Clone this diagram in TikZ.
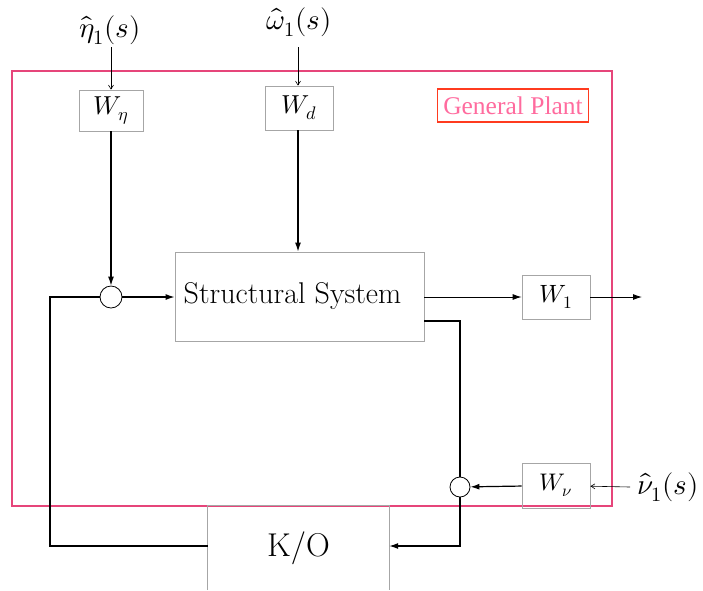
\documentclass[tikz,border=0pt]{standalone}
\usepackage{fontspec}
\usepackage{unicode-math}
\setmathfont{Latin Modern Math}
\newfontfamily\tnr{Liberation Serif}
\usetikzlibrary{arrows.meta}
\definecolor{framepink}{HTML}{E6457A}
\definecolor{gpborder}{HTML}{FF3B1F}
\definecolor{gptext}{HTML}{FF6B9E}
\begin{document}
\begin{tikzpicture}[x=1pt,y=-1pt,
  blk/.style={draw=black!35,line width=0.8pt,inner sep=0pt,anchor=center},
  sumj/.style={draw,circle,line width=0.8pt,minimum size=22pt,inner sep=0pt},
  conn/.style={line width=1.2pt,-{Latex[length=9pt,width=6pt]}},
  connthin/.style={line width=0.9pt,-{Latex[length=9pt,width=6pt]}},
  plain/.style={line width=1.2pt},
  thinarr/.style={line width=0.6pt,-{Straight Barb[length=4pt,width=5pt]}},
  lbl/.style={inner sep=0pt}]
\useasboundingbox (0,0) rectangle (703,590);
% frame
\draw[framepink,line width=1.6pt] (12,71) rectangle (612,506);
\node[draw=gpborder,line width=1.4pt,minimum width=151pt,minimum height=33pt,inner sep=0pt,text=gptext,font=\tnr\fontsize{25.5}{28}\selectfont] (gp) at (513,105.5) {General Plant};
% blocks
\node[blk,minimum width=64pt,minimum height=41pt,font=\fontsize{26}{30}\selectfont] (weta) at (111,110.5) {$W_\eta$};
\node[blk,minimum width=68pt,minimum height=44pt,font=\fontsize{26}{30}\selectfont] (wd) at (299,108) {$W_d$};
\node[blk,minimum width=249pt,minimum height=89pt,font=\fontsize{30}{34}\selectfont] (ss) at (299.5,296.5) {\hspace*{-14pt}Structural System};
\node[blk,minimum width=68pt,minimum height=44pt,font=\fontsize{25}{29}\selectfont] (w1) at (556,297) {$W_1$};
\node[blk,minimum width=68pt,minimum height=45pt,font=\fontsize{24}{28}\selectfont] (wnu) at (556,485.5) {$W_\nu$};
\node[sumj] (s1) at (111,297) {};
\node[sumj,minimum size=20pt] (s2) at (460,487) {};
\node[inner sep=0pt,minimum width=181pt,minimum height=84pt,font=\fontsize{33}{36}\selectfont] (ko) at (298.5,548) {K/O};
\draw[black!35,line width=0.8pt] (ko.south west) -- (ko.north west) -- (ko.north east) -- (ko.south east);
% labels
\node[lbl,font=\fontsize{29}{33}\selectfont] (eta) at (110,30) {$\hat\eta_1(s)$};
\node[lbl,font=\fontsize{29}{33}\selectfont] (om) at (299,22) {$\hat\omega_1(s)$};
\node[lbl,font=\fontsize{29}{33}\selectfont] (nu) at (668,487) {$\hat\nu_1(s)$};
\coordinate (etain) at (111,47);
\coordinate (omin) at (298,47);
\coordinate (nuin) at (630,487);
\coordinate (out) at (642,297);
\coordinate (fbtop) at (50,297);
\coordinate (fbbot) at (50,546);
\coordinate (c2) at (460,321);
\coordinate (c3) at (460,546);
% connectors
\draw[thinarr] (etain) -- (weta);
\draw[thinarr] (omin) -- (omin |- wd.north);
\draw[conn] (weta) -- (s1);
\draw[conn] (wd.south -| omin) -- (omin |- ss.north);
\draw[conn] (s1.east) -- (s1.east -| ss.west);
\draw[connthin] (ss.east |- w1) -- (w1);
\draw[connthin] (w1) -- (out);
\draw[plain] (ss.east |- c2) -- (c2) -- (s2);
\draw[conn] (s2) -- (c3) -- (c3 -| ko.east);
\draw[plain] (fbbot -| ko.west) -- (fbbot) -- (fbtop) -- (s1);
\draw[conn] (wnu) -- (s2);
\draw[thinarr] (nuin) -- (wnu);
\end{tikzpicture}
\end{document}
